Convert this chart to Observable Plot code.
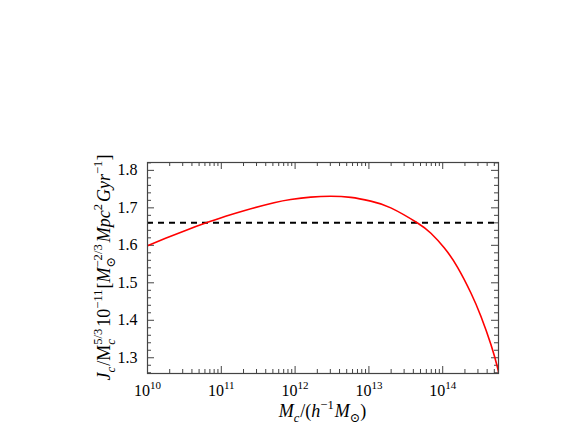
<!DOCTYPE html>
<html><head><meta charset="utf-8">
<script src="https://cdn.jsdelivr.net/npm/d3@7"></script>
<script src="https://cdn.jsdelivr.net/npm/@observablehq/plot@0.6"></script>
<style>
body{margin:0;background:#fff;}
svg, svg text, svg tspan { font-family: "Liberation Serif", "DejaVu Serif", serif !important; }
</style>
</head><body><div id="chart"></div>
<script>
// ---- data ----
const massMc = [1.0e10, 1.755e10, 3.28e10, 6.12e10, 1.143e11, 2.14e11, 5.18e11, 8.71e11, 1.63e12, 3.04e12, 5.68e12, 1.06e13, 1.98e13, 4.56e13, 6.92e13, 1.047e14, 1.59e14, 2.42e14, 3.30e14, 4.51e14, 5.56e14, 5.70e14];
const jValue = [1.599, 1.6188, 1.6398, 1.6594, 1.6774, 1.6938, 1.7136, 1.7223, 1.7287, 1.7311, 1.7279, 1.7179, 1.6999, 1.6595, 1.6322, 1.5936, 1.5413, 1.4721, 1.4101, 1.3345, 1.2720, 1.258];
const refLevel = [1.66];
const xMajorTicks = [1e10, 1e11, 1e12, 1e13, 1e14];
const xTickExponents = ["10", "11", "12", "13", "14"];
const yMajorTicks = [1.3, 1.4, 1.5, 1.6, 1.7, 1.8];
const yTickLabels = ["1.3", "1.4", "1.5", "1.6", "1.7", "1.8"];
const xDomain = [1e10, 5.7e14];
const yDomain = [1.258, 1.821];

const W = 578, H = 432, ML = 147, MR = 80, MT = 162, MB = 59;
const innerW = W - ML - MR, innerH = H - MT - MB;
const FONT = "Liberation Serif, DejaVu Serif, serif";
const AX = "#444";

const data = massMc.map((m, i) => ({m, j: jValue[i]}));
const xMinorTicks = [];
for (const d of xMajorTicks) for (let k = 2; k <= 9; k++) { const v = d * k; if (v <= xDomain[1]) xMinorTicks.push(v); }
const yMinorTicks = d3.range(63, 92).map(k => Math.round(k * 2) / 100)
  .filter(v => v >= yDomain[0] && v <= yDomain[1] && !yMajorTicks.some(t => Math.abs(t - v) < 1e-9));

const MAJ = 7, MIN = 4;
const plot = Plot.plot({
  width: W, height: H,
  marginLeft: ML, marginRight: MR, marginTop: MT, marginBottom: MB,
  style: {fontFamily: FONT, fontSize: "16px", background: "white", color: "#000", overflow: "visible"},
  x: {type: "log", domain: xDomain, axis: null},
  y: {domain: yDomain, axis: null},
  marks: [
    Plot.ruleX(xMajorTicks, {x: d => d, insetTop: innerH - MAJ, stroke: AX}),
    Plot.ruleX(xMajorTicks, {x: d => d, insetBottom: innerH - MAJ, stroke: AX}),
    Plot.ruleX(xMinorTicks, {x: d => d, insetTop: innerH - MIN, stroke: AX}),
    Plot.ruleX(xMinorTicks, {x: d => d, insetBottom: innerH - MIN, stroke: AX}),
    Plot.ruleY(yMajorTicks, {y: d => d, insetRight: innerW - MAJ, stroke: AX}),
    Plot.ruleY(yMajorTicks, {y: d => d, insetLeft: innerW - MAJ, stroke: AX}),
    Plot.ruleY(yMinorTicks, {y: d => d, insetRight: innerW - MIN, stroke: AX}),
    Plot.ruleY(yMinorTicks, {y: d => d, insetLeft: innerW - MIN, stroke: AX}),
    Plot.text(yMajorTicks, {y: d => d, text: (d, i) => yTickLabels[i], frameAnchor: "left", dx: -10, textAnchor: "end", fontSize: 16, fill: "#000"}),
    Plot.text(xMajorTicks, {x: d => d, text: (d, i) => "10^" + xTickExponents[i], frameAnchor: "bottom", dy: 22, lineAnchor: "bottom", fontSize: 16, fill: "#000"}),
    Plot.ruleY(refLevel, {y: d => d, stroke: "black", strokeWidth: 2, strokeDasharray: "6,5"}),
    Plot.line(data, {x: "m", y: "j", stroke: "red", strokeWidth: 1.6, curve: "natural", clip: true}),
    Plot.frame({stroke: AX, strokeWidth: 1.2})
  ]
});
document.getElementById("chart").append(plot);

const svg = d3.select(plot);
svg.selectAll("text").attr("font-family", FONT);
// superscript tick labels
svg.selectAll("text").filter(function () { return this.textContent.includes("^"); }).each(function () {
  const t = d3.select(this);
  const parts = this.textContent.split("^");
  t.selectAll("*").remove();
  t.text(null);
  t.append("tspan").text(parts[0]);
  t.append("tspan").text(parts[1]).attr("font-size", 11).attr("dy", -6.5);
});

function richText(sel, segs, base) {
  let cur = 0, lastW = 0;
  for (const s of segs) {
    const target = s.sh === "sub" ? base * 0.25 : s.sh === "sup" ? -base * 0.42 : 0;
    const ts = sel.append("tspan").text(s.t)
      .attr("dy", target - cur)
      .attr("font-size", s.sh ? base * 0.7 : base)
      .attr("font-style", s.it ? "italic" : "normal");
    if (s.stack) ts.attr("dx", -lastW);
    if (s.dx) ts.attr("dx", s.dx);
    lastW = ts.node().getComputedTextLength();
    cur = target;
  }
}

const LS = 18;
const xl = svg.append("text").attr("x", ML + innerW / 2).attr("y", 417)
  .attr("text-anchor", "middle").attr("font-family", FONT).attr("fill", "#000");
richText(xl, [
  {t: "M", it: true}, {t: "c", it: true, sh: "sub"}, {t: "/(", dx: 1}, {t: "h", it: true},
  {t: "−1", sh: "sup"}, {t: "M", it: true, dx: 1}, {t: "⊙", sh: "sub"}, {t: ")"}
], LS);

const yl = svg.append("text").attr("transform", `translate(110,${MT + innerH / 2}) rotate(-90)`)
  .attr("text-anchor", "middle").attr("font-family", FONT).attr("fill", "#000");
richText(yl, [
  {t: "J", it: true}, {t: "c", it: true, sh: "sub"}, {t: "/M", dx: 1}, {t: "c", it: true, sh: "sub"},
  {t: "5/3", sh: "sup", stack: true}, {t: "10", dx: 2}, {t: "−11", sh: "sup"}, {t: "[", dx: 1},
  {t: "M", it: true}, {t: "⊙", sh: "sub"}, {t: "−2/3", sh: "sup", stack: true},
  {t: "Mpc", it: true, dx: 2}, {t: "2", sh: "sup"}, {t: "Gyr", it: true, dx: 2}, {t: "−1", sh: "sup"}, {t: "]"}
], LS);
</script>
</body></html>
